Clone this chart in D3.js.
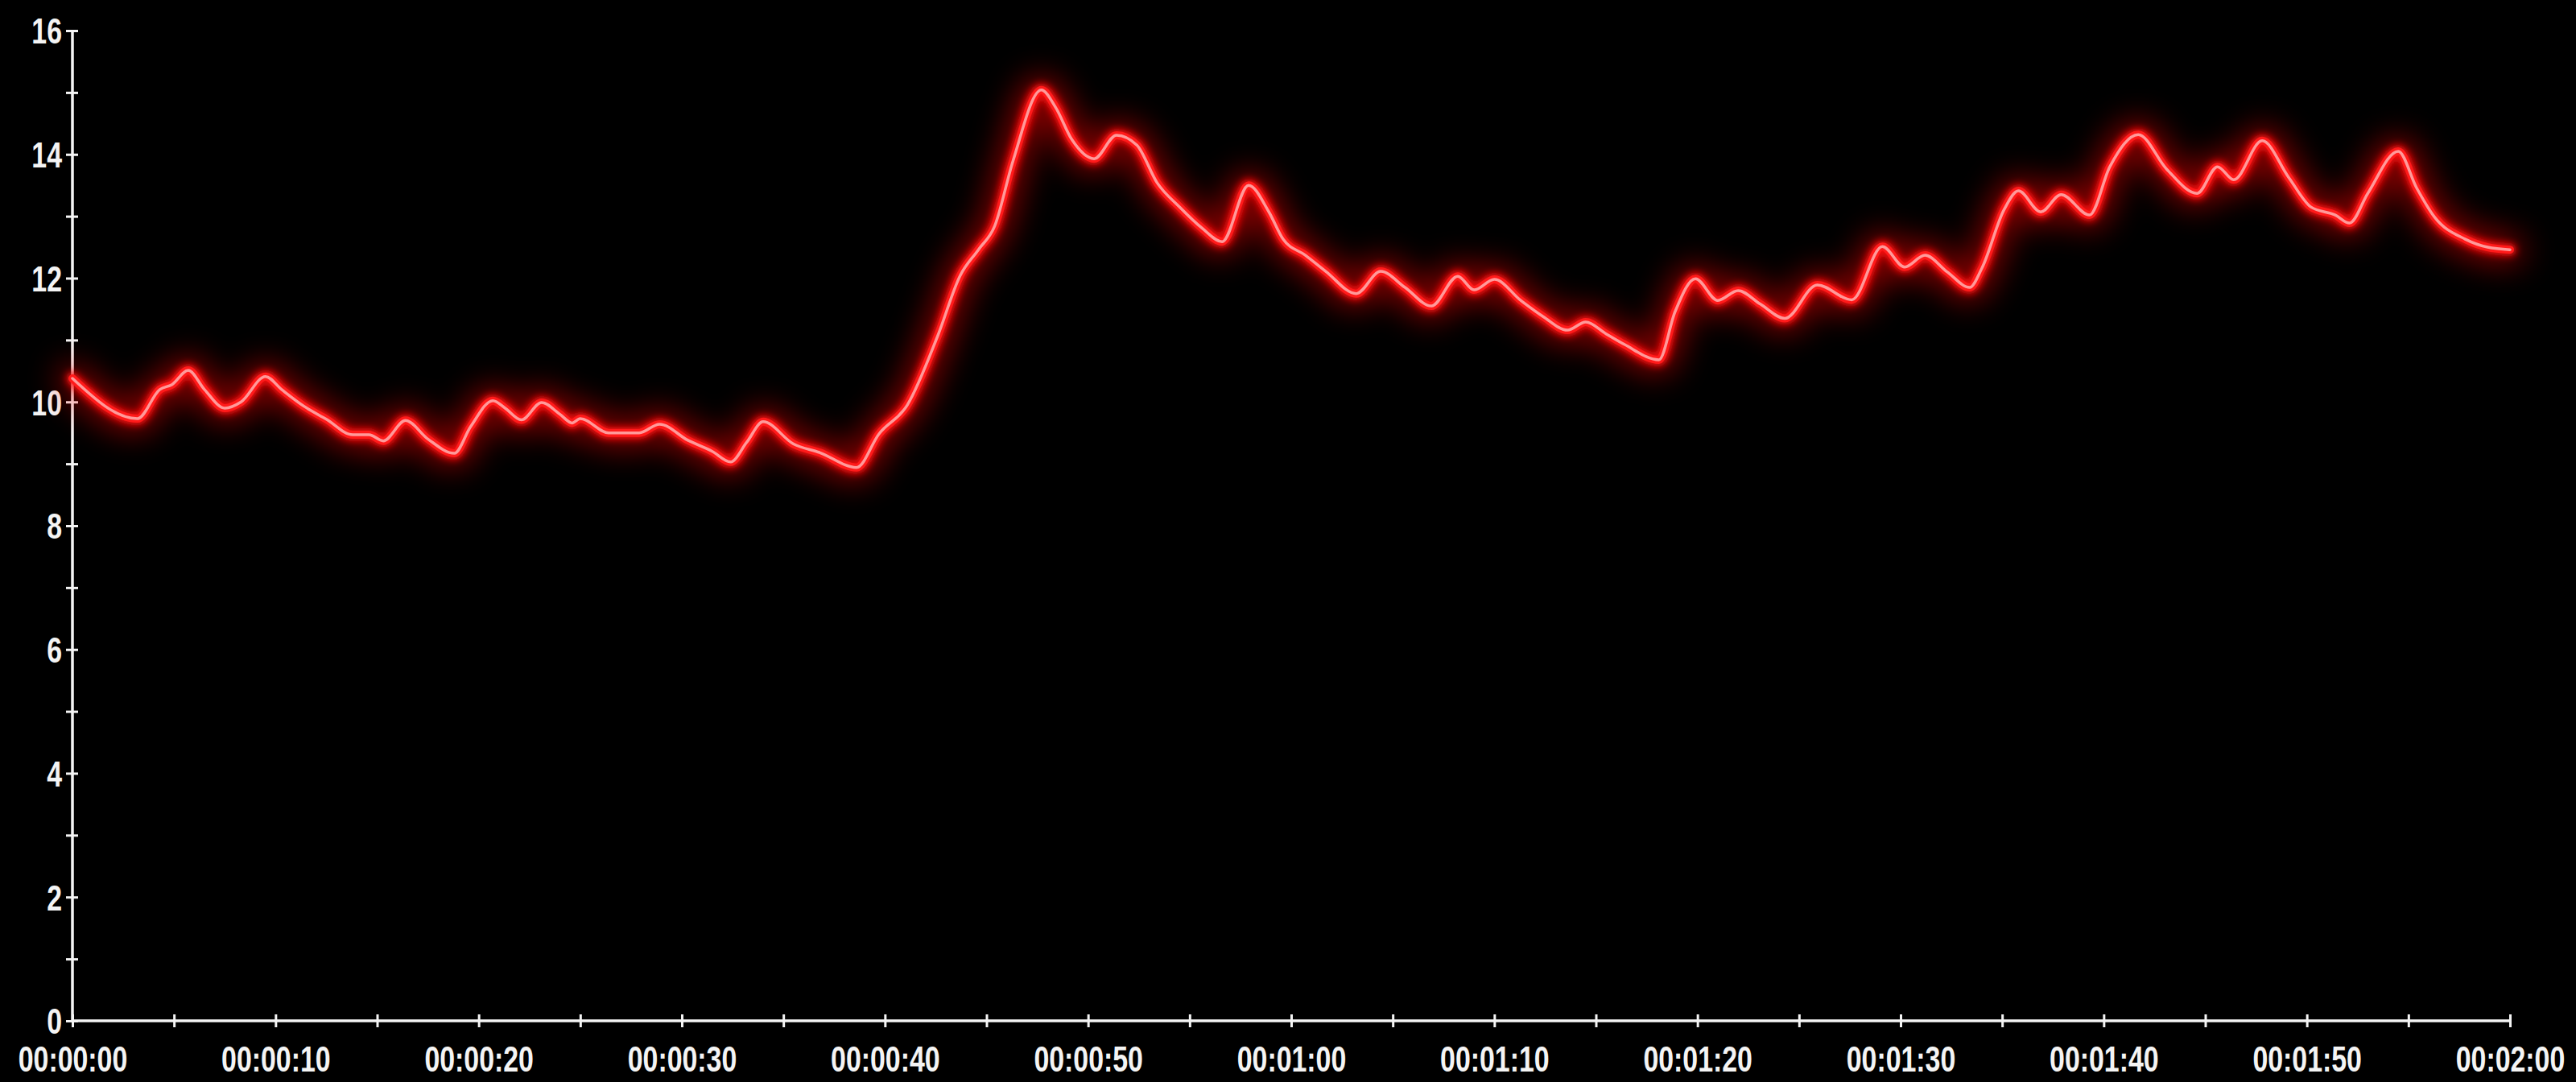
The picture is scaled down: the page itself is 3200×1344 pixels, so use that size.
<!DOCTYPE html>
<html>
<head>
<meta charset="utf-8">
<script src="https://cdn.jsdelivr.net/npm/d3@7"></script>
<style>
  html, body { margin: 0; padding: 0; background: #000; }
  svg { display: block; }
  .axis text { font-family: "Liberation Sans", Arial, sans-serif; font-weight: bold; font-size: 44px; fill: #f4f4f4; }
</style>
</head>
<body>
<svg id="chart" width="3200" height="1344"></svg>
<script>
// Time in seconds (at the curve's turning points)
const times = [0, 3.2, 4.3, 4.9, 5.7, 6.5, 7.5, 8.3, 9.5, 10.3, 11.4, 12.5, 13.8, 14.6, 15.3, 16.4, 17.5, 18.8, 19.6, 20.7,
  21.3, 22.1, 23.1, 24.0, 24.6, 25.0, 26.4, 27.9, 28.9, 30.3, 31.5, 32.4, 33.2, 34.0, 35.5, 36.8, 38.6, 39.7, 41.1, 42.6,
  43.7, 44.6, 45.4, 46.3, 47.7, 48.4, 49.2, 50.3, 51.4, 52.4, 53.4, 54.5, 55.6, 56.6, 57.9, 58.9, 59.6, 60.7, 61.7, 63.2,
  64.4, 65.6, 66.9, 68.2, 69.0, 70.0, 71.3, 72.4, 73.6, 74.5, 75.5, 76.4, 78.1, 78.9, 79.9, 81.0, 82.0, 83.1, 84.3, 85.9,
  87.6, 89.1, 90.2, 91.2, 92.3, 93.4, 94.0, 95.1, 95.8, 96.9, 97.9, 99.3, 100.3, 101.7, 103.1, 104.6, 105.6, 106.4, 107.8, 109.1,
  110.2, 111.4, 112.1, 113.0, 114.5, 115.4, 116.3, 117.8, 118.9, 120.0];
const values = [10.38, 9.73, 10.2, 10.28, 10.51, 10.2, 9.90, 10.0, 10.41, 10.2, 9.93, 9.72, 9.47, 9.47, 9.37, 9.70, 9.40, 9.17, 9.60, 10.02,
  9.90, 9.71, 9.99, 9.80, 9.66, 9.73, 9.50, 9.50, 9.64, 9.38, 9.20, 9.03, 9.35, 9.68, 9.32, 9.18, 8.94, 9.48, 9.95, 11.07,
  12.04, 12.46, 12.84, 13.89, 15.04, 14.76, 14.24, 13.93, 14.31, 14.15, 13.54, 13.15, 12.81, 12.59, 13.50, 13.07, 12.63, 12.37, 12.11, 11.75,
  12.11, 11.85, 11.55, 12.03, 11.81, 11.98, 11.64, 11.38, 11.16, 11.29, 11.10, 10.93, 10.68, 11.46, 11.99, 11.64, 11.80, 11.58, 11.35, 11.89,
  11.65, 12.51, 12.18, 12.37, 12.10, 11.85, 12.16, 13.11, 13.41, 13.07, 13.35, 13.02, 13.80, 14.32, 13.76, 13.37, 13.80, 13.59, 14.22, 13.63,
  13.15, 13.02, 12.89, 13.37, 14.05, 13.46, 12.98, 12.63, 12.50, 12.46];
const xTickValues = d3.range(0, 121, 5);   // seconds
const yTickValues = d3.range(0, 17, 1);

const data = times.map((t, i) => ({ t, v: values[i] }));

const svg = d3.select("#chart");
const x = d3.scaleLinear().domain([0, 120]).range([90, 3118]);
const y = d3.scaleLinear().domain([0, 16]).range([1268, 38]);

const fmt = s => {
  const h = Math.floor(s / 3600), m = Math.floor((s % 3600) / 60), sec = s % 60;
  const p = n => String(n).padStart(2, "0");
  return `${p(h)}:${p(m)}:${p(sec)}`;
};

// glow filters
const defs = svg.append("defs");
const f1 = defs.append("filter").attr("id", "haloWide").attr("x", "-5%").attr("y", "-40%").attr("width", "110%").attr("height", "180%");
f1.append("feGaussianBlur").attr("stdDeviation", 20);
const f2 = defs.append("filter").attr("id", "haloNear").attr("x", "-5%").attr("y", "-30%").attr("width", "110%").attr("height", "160%");
f2.append("feGaussianBlur").attr("stdDeviation", 5);

const squeeze = 0.77;

// axes
const yAxis = d3.axisLeft(y).tickValues(yTickValues)
  .tickFormat(d => d % 2 === 0 ? d : "").tickSize(7).tickPadding(8);
const gy = svg.append("g").attr("class", "axis").attr("transform", "translate(90,0)").call(yAxis);
const xAxis = d3.axisBottom(x).tickValues(xTickValues)
  .tickFormat(d => d % 10 === 0 ? fmt(d) : "").tickSize(8).tickPadding(24);
const gx = svg.append("g").attr("class", "axis").attr("transform", "translate(0,1268)").call(xAxis);

[gx, gy].forEach(g => {
  g.select(".domain").attr("stroke", "#f4f4f4").attr("stroke-width", 3.5);
  g.selectAll(".tick line").attr("stroke", "#f4f4f4").attr("stroke-width", 3);
});
gy.selectAll(".tick line").attr("x1", 7).attr("x2", -8);
gy.select(".domain").attr("d", `M0,${y(0)}V${y(16)}`);
gy.selectAll(".tick text").attr("dy", "0.36em")
  .attr("x", -13 / squeeze).attr("transform", `scale(${squeeze},1)`);
gx.selectAll(".tick line").attr("y1", -8).attr("y2", 8);
gx.select(".domain").attr("d", `M${x(0)},0H${x(120)}`);
gx.selectAll(".tick text").attr("transform", `scale(${squeeze},1)`);

// line
const line = d3.line().x(d => x(d.t)).y(d => y(d.v)).curve(d3.curveMonotoneX);
const g = svg.append("g").attr("fill", "none").attr("stroke-linejoin", "round").attr("stroke-linecap", "round");
g.append("path").datum(data).attr("d", line).attr("stroke", "#ff0000").attr("stroke-width", 32).attr("opacity", 0.6).attr("filter", "url(#haloWide)");
g.append("path").datum(data).attr("d", line).attr("stroke", "#ff1010").attr("stroke-width", 16).attr("opacity", 0.95).attr("filter", "url(#haloNear)");
g.append("path").datum(data).attr("d", line).attr("stroke", "#ff1a1a").attr("stroke-width", 10);
g.append("path").datum(data).attr("d", line).attr("stroke", "#ff9a9a").attr("stroke-width", 3.5);
</script>
</body>
</html>
